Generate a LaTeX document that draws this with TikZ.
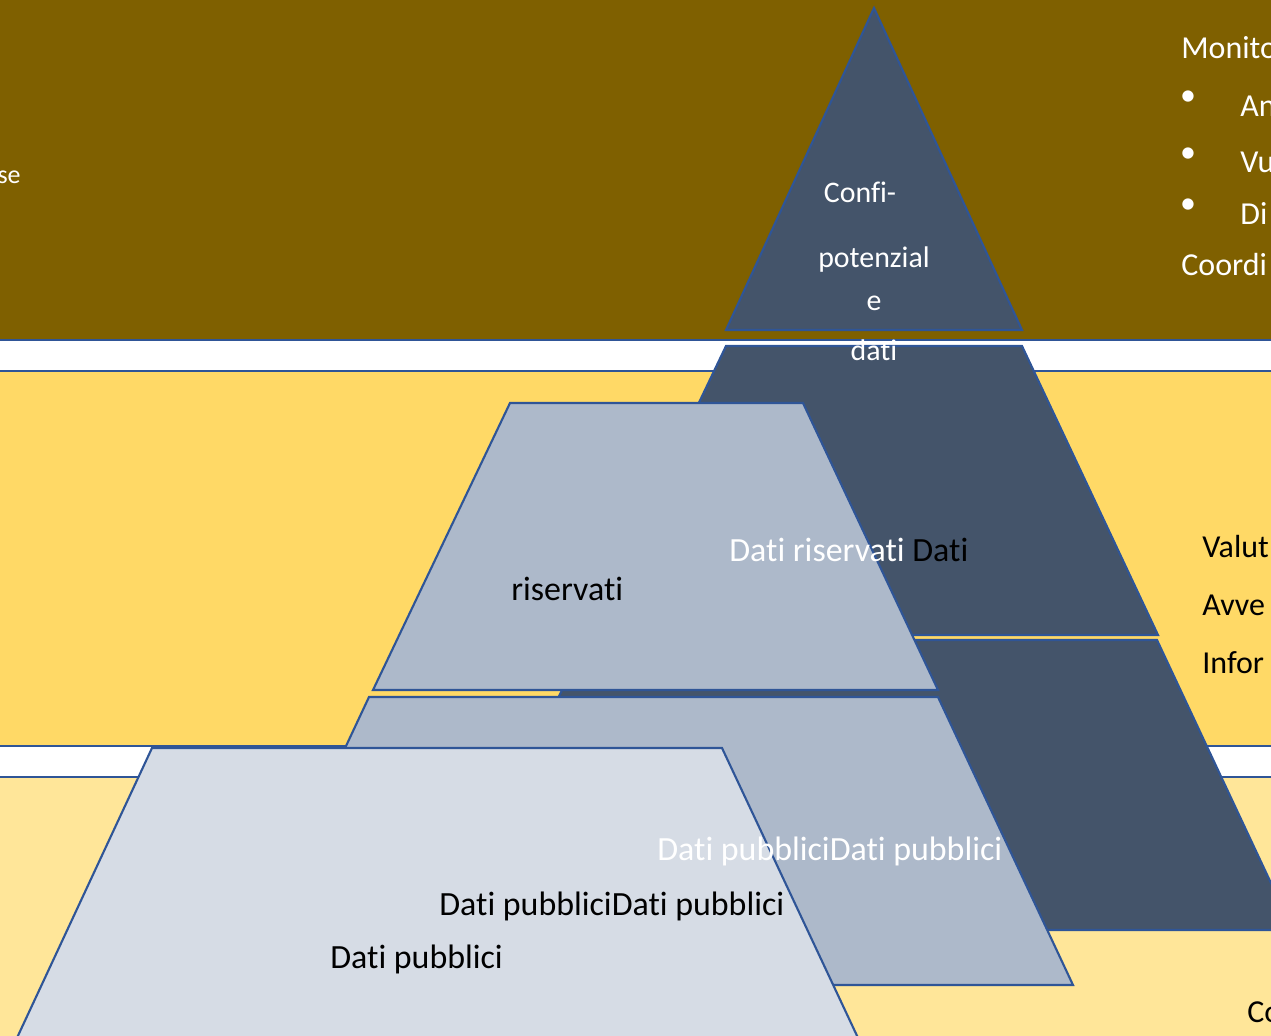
\documentclass[tikz,border=0pt]{standalone}
\usepackage{fontspec}
\setmainfont{Carlito}[Ligatures=NoCommon]

\definecolor{bandtop}{HTML}{7F6000}
\definecolor{bandmid}{HTML}{FFD966}
\definecolor{bandlow}{HTML}{FFE699}
\definecolor{edgeblue}{HTML}{2F5597}
\definecolor{tierdark}{HTML}{44546A}
\definecolor{tiermid}{HTML}{ADB9CA}
\definecolor{tierlight}{HTML}{D6DCE5}

\tikzset{
  band/.style={draw=edgeblue, line width=1.3pt},
  tier/.style={draw=edgeblue, line width=1.2pt, line join=miter},
  lbl/.style={inner sep=0pt, font=\fontsize{19.3pt}{23pt}\selectfont},
  toplbl/.style={inner sep=0pt, text=white, font=\fontsize{17pt}{20pt}\selectfont},
  sidelbl/.style={inner sep=0pt, font=\fontsize{18.2pt}{22pt}\selectfont}
}

\begin{document}
\begin{tikzpicture}[x=0.02cm, y=-0.02cm]
\clip (0,0) rectangle (1271,1035);

% bands
\draw[band, fill=bandtop] (-10,-10) rectangle (1281,340);
\draw[band, fill=bandmid] (-10,371) rectangle (1281,746);
\draw[band, fill=bandlow] (-10,777) rectangle (1281,1045);

% dark pyramid
\draw[tier, fill=tierdark] (874,8) -- (1022,330) -- (726,330) -- cycle;
\draw[tier, fill=tierdark] (726,346) -- (1022,346) -- (1158,635) -- (588,635) -- cycle;
\draw[tier, fill=tierdark] (586,640) -- (1157,640) -- (1293,930) -- (447,930) -- cycle;

% middle tiers
\draw[tier, fill=tiermid] (510,403) -- (803,403) -- (938,690) -- (373,690) -- cycle;
\draw[tier, fill=tiermid] (369,697) -- (938,697) -- (1073,985) -- (234,985) -- cycle;

% light tier
\draw[tier, fill=tierlight] (152,748) -- (722,748) -- (859,1040) -- (16,1040) -- cycle;

% texts in the top band
\node[toplbl, anchor=base east, font=\fontsize{14.8pt}{18pt}\selectfont] (se) at (21,183) {se};
\node[toplbl, anchor=base] (confi) at (860,202) {Confi-};
\node[toplbl, anchor=base] (potenz) at (874,267) {potenzial};
\node[toplbl, anchor=base] (ee) at (874,310) {e};
\node[toplbl, anchor=base] (dati) at (874,360) {dati};

\node[sidelbl, text=white, anchor=base west] (monit) at (1181,58) {Monito};
\node[sidelbl, text=white, anchor=base west] (itema) at (1240,116) {An};
\node[sidelbl, text=white, anchor=base west] (itemv) at (1240,172) {Vu};
\node[sidelbl, text=white, anchor=base west] (itemd) at (1240,224) {Di};
\node[sidelbl, text=white, anchor=base west] (coord) at (1181,275) {Coordi};
\foreach \yy/\nm in {98/ba, 155/bv, 206/bd}
  \node[sidelbl, text=white] (\nm) at (1188,\yy) {•};

% texts in the middle band
\node[lbl, anchor=base west] (risdue) at (729,561) {\textcolor{white}{Dati riservati} Dati};
\node[lbl, anchor=base west] (ris) at (511,600) {riservati};
\node[sidelbl, anchor=base west] (valut) at (1202,557) {Valut};
\node[sidelbl, anchor=base west] (avve) at (1202,615) {Avve};
\node[sidelbl, anchor=base west] (infor) at (1202,673) {Infor};

% texts in the lower band
\node[lbl, text=white, anchor=base west] (pubw) at (657,860) {Dati pubbliciDati pubblici};
\node[lbl, anchor=base west] (pubb) at (439,915) {Dati pubbliciDati pubblici};
\node[lbl, anchor=base west] (pub) at (330,968) {Dati pubblici};
\node[sidelbl, anchor=base west] (co) at (1247,1022) {Co};
\end{tikzpicture}
\end{document}
